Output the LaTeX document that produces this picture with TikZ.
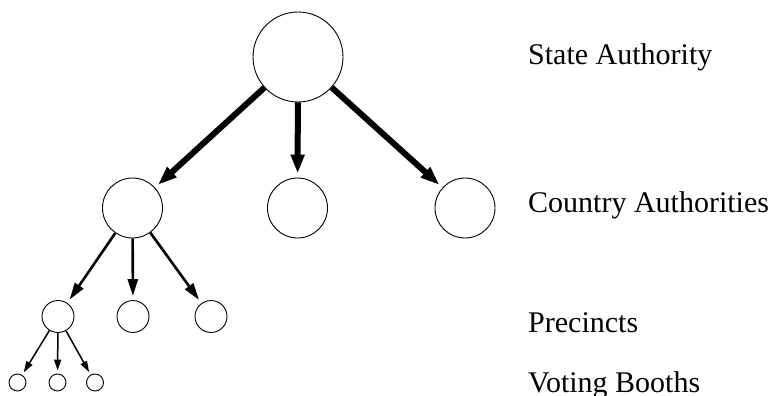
\documentclass[tikz,border=0pt]{standalone}
\usepackage{fontspec}
\setmainfont{Liberation Serif}
\usetikzlibrary{arrows.meta}
\begin{document}
\begin{tikzpicture}[x=1pt,y=-1pt,
    unit/.style={circle,draw,line width=0.9pt,inner sep=0pt},
    level/.style={anchor=base west,inner sep=0pt,font=\fontsize{30}{36}\selectfont},
    bigarrow/.style={line width=6pt,-{Triangle[length=19pt,width=13pt]},shorten >=4pt},
    midarrow/.style={line width=2.6pt,-{Triangle[length=17pt,width=10pt]},shorten >=4pt},
    smallarrow/.style={line width=1.5pt,-{Triangle[length=11pt,width=7pt]},shorten >=3pt}]{
    \useasboundingbox (0,0) rectangle (771,396);
    \node [unit, minimum size=90pt] (State) at (298,57) {};
    \node [unit, minimum size=60pt] (CountryA) at (132.5,208) {};
    \node [unit, minimum size=60pt] (CountryB) at (297.5,208) {};
    \node [unit, minimum size=60pt] (CountryC) at (465,208) {};
    \node [unit, minimum size=32pt] (PrecinctA) at (58,316.5) {};
    \node [unit, minimum size=32pt] (PrecinctB) at (133,316.5) {};
    \node [unit, minimum size=32pt] (PrecinctC) at (211,316.5) {};
    \node [unit, minimum size=17pt] (BoothA) at (17.5,382.5) {};
    \node [unit, minimum size=17pt] (BoothB) at (57.5,382.5) {};
    \node [unit, minimum size=17pt] (BoothC) at (95,382.5) {};

    \node [level] (StateLabel) at (528,65) {State Authority};
    \node [level] (CountryLabel) at (528,212) {Country Authorities};
    \node [level] (PrecinctLabel) at (528,332) {Precincts};
    \node [level] (BoothLabel) at (528,392) {Voting Booths};

    \path [bigarrow] (State) edge (CountryA);
    \path [bigarrow] (State) edge (CountryB);
    \path [bigarrow] (State) edge (CountryC);
    \path [midarrow] (CountryA) edge (PrecinctA);
    \path [midarrow] (CountryA) edge (PrecinctB);
    \path [midarrow] (CountryA) edge (PrecinctC);
    \path [smallarrow] (PrecinctA) edge (BoothA);
    \path [smallarrow] (PrecinctA) edge (BoothB);
    \path [smallarrow] (PrecinctA) edge (BoothC);
}
\end{tikzpicture}
\end{document}
